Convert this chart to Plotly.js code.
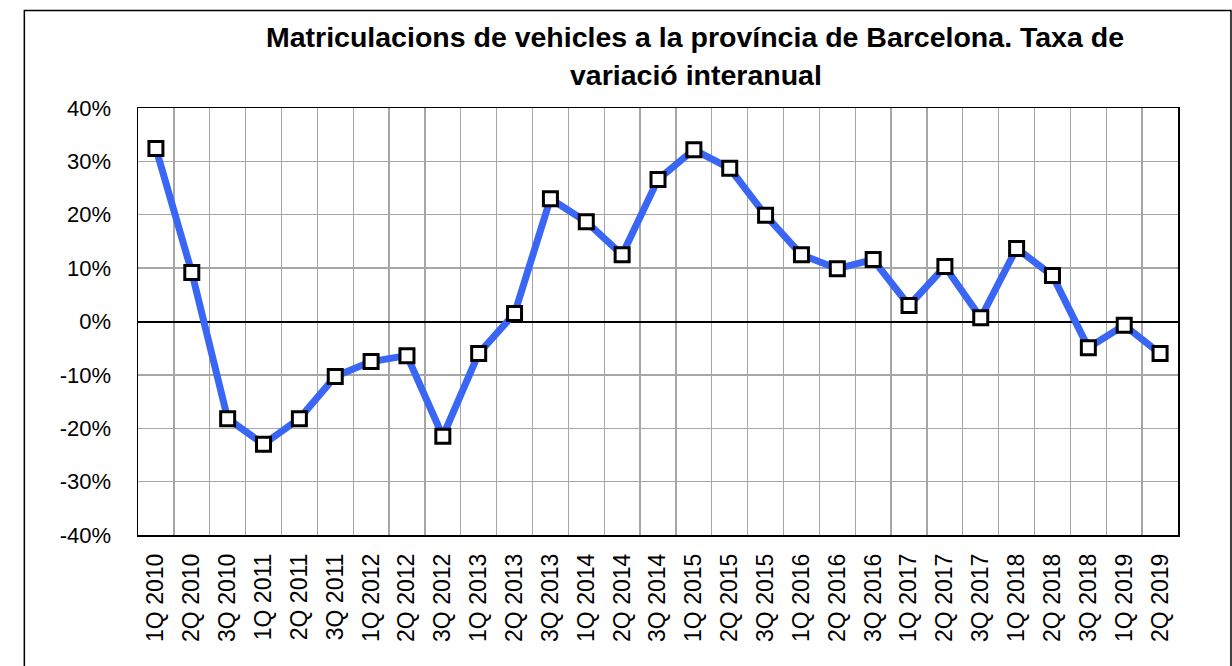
<!DOCTYPE html>
<html>
<head>
<meta charset="utf-8">
<script src="https://cdn.plot.ly/plotly-3.0.1.min.js"></script>
<style>
html,body{margin:0;padding:0;background:#fff;}
#chart{width:1232px;height:666px;}
</style>
</head>
<body>
<div id="chart"></div>
<script>
const categories = ["1Q 2010","2Q 2010","3Q 2010","1Q 2011","2Q 2011","3Q 2011","1Q 2012","2Q 2012","3Q 2012","1Q 2013","2Q 2013","3Q 2013","1Q 2014","2Q 2014","3Q 2014","1Q 2015","2Q 2015","3Q 2015","1Q 2016","2Q 2016","3Q 2016","1Q 2017","2Q 2017","3Q 2017","1Q 2018","2Q 2018","3Q 2018","1Q 2019","2Q 2019"];
const variation = [0.324,0.092,-0.182,-0.230,-0.182,-0.103,-0.075,-0.064,-0.215,-0.060,0.015,0.230,0.187,0.125,0.266,0.322,0.287,0.199,0.125,0.099,0.116,0.030,0.103,0.007,0.137,0.086,-0.049,-0.007,-0.060];
const yTickVals = [-0.4,-0.3,-0.2,-0.1,0,0.1,0.2,0.3,0.4];
const yTickText = ["-40%","-30%","-20%","-10%","0%","10%","20%","30%","40%"];
const titleLine1 = "Matriculacions de vehicles a la província de Barcelona. Taxa de";
const titleLine2 = "variació interanual";

const W = 1232, H = 666;
const L = 137.7, R = 1178, T = 107.5, B = 535;
const px2paperX = p => (p - L) / (R - L);
const px2paperY = p => (B - p) / (B - T);
const FONT = 'Liberation Sans, Arial, sans-serif';
const titleFont = {family: FONT, size: 28.5, color: '#000000', weight: 'bold'};

const trace = {
  x: categories,
  y: variation,
  type: 'scatter',
  mode: 'lines+markers',
  line: {color: '#3a66f6', width: 7},
  marker: {symbol: 'square', size: 14, color: '#ffffff', line: {color: '#000000', width: 3}},
  cliponaxis: false,
  hoverinfo: 'x+y'
};

const layout = {
  width: W, height: H,
  paper_bgcolor: '#ffffff',
  plot_bgcolor: '#ffffff',
  margin: {l: L, r: W - R, t: T, b: H - B, pad: 0},
  showlegend: false,
  font: {family: FONT, color: '#000000', size: 22},
  title: {
    text: titleLine1,
    font: titleFont,
    xref: 'container', x: 695 / W, xanchor: 'center',
    yref: 'container', y: 1 - 27 / H, yanchor: 'top'
  },
  annotations: [{
    text: titleLine2,
    font: titleFont,
    xref: 'paper', x: px2paperX(696), xanchor: 'center',
    yref: 'paper', y: px2paperY(56), yanchor: 'top',
    showarrow: false
  }],
  xaxis: {
    type: 'category',
    tickangle: -90,
    tickson: 'boundaries',
    ticks: '',
    showgrid: true,
    gridcolor: '#a6a6a6',
    gridwidth: 1.3,
    showline: true,
    linecolor: '#000000',
    linewidth: 1.5,
    mirror: true,
    zeroline: false,
    ticklabelstandoff: 8,
    tickfont: {size: 23},
    range: [-0.5, categories.length - 0.5]
  },
  yaxis: {
    range: [-0.4, 0.4],
    tickvals: yTickVals,
    ticktext: yTickText,
    showgrid: true,
    gridcolor: '#a6a6a6',
    gridwidth: 1.3,
    showline: true,
    linecolor: '#000000',
    linewidth: 1.5,
    mirror: true,
    zeroline: true,
    zerolinecolor: '#000000',
    zerolinewidth: 2,
    ticks: '',
    ticklabelstandoff: 21,
    tickfont: {size: 22}
  },
  shapes: [{
    type: 'rect', xref: 'paper', yref: 'paper',
    x0: px2paperX(24), x1: px2paperX(1231),
    y0: px2paperY(700), y1: px2paperY(10),
    line: {color: '#000000', width: 1.5},
    fillcolor: 'rgba(0,0,0,0)',
    layer: 'below'
  }]
};

Plotly.newPlot('chart', [trace], layout, {displayModeBar: false, staticPlot: true});
</script>
</body>
</html>
